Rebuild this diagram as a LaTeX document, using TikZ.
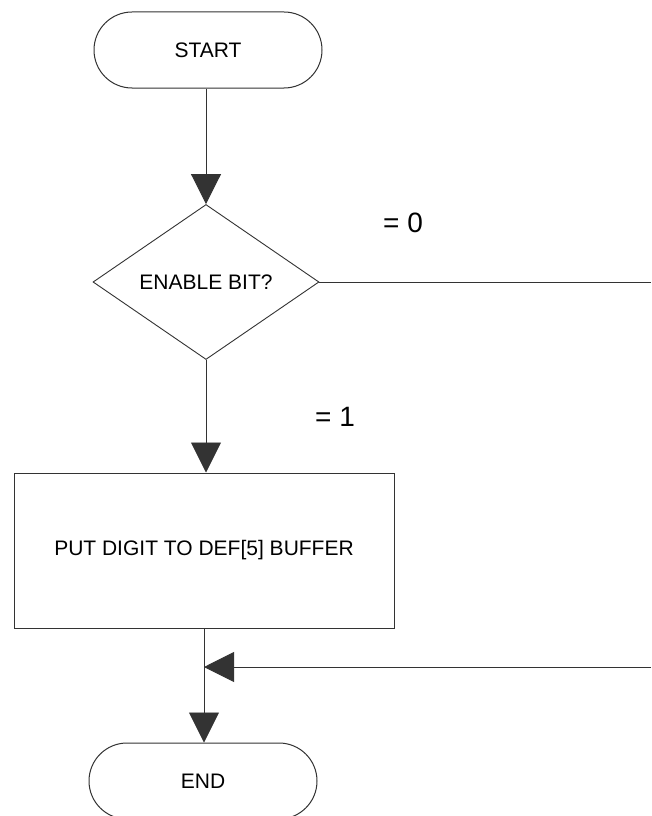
\documentclass[tikz,border=0pt]{standalone}
\usepackage{fontspec}
\setmainfont{Liberation Sans}
\usetikzlibrary{arrows.meta,shapes.geometric,shapes.misc}
\begin{document}
\begin{tikzpicture}[x=1pt,y={(0pt,-1pt)},
  every node/.style={font=\fontsize{21}{25}\selectfont, text=black},
  term/.style={draw=black!80, line width=1pt, rounded rectangle, minimum width=228pt, minimum height=76pt, inner sep=0pt},
  decide/.style={draw=black!80, line width=0.9pt, diamond, aspect=1.46, minimum width=226pt, minimum height=155pt, inner sep=0pt},
  procbox/.style={draw=black!80, line width=1pt, rectangle, minimum width=380pt, minimum height=155pt, inner sep=0pt},
  cond/.style={font=\fontsize{28}{32}\selectfont},
  flow/.style={draw=black!80, line width=0.9pt},
  flowarr/.style={flow, -{Triangle[length=30pt,width=30pt]}}
]
\useasboundingbox (0,0) rectangle (651,816);
\fill[white] (0,0) rectangle (651,816);

\node[term] (start) at (208,50) {START};
\node[decide] (dia) at (206,282) {ENABLE BIT?};
\node[procbox] (box) at (204,550.5) {PUT DIGIT TO DEF[5] BUFFER};
\node[term] (end) at (203,781) {END};

\node[cond] (c0) at (403,223) {= 0};
\node[cond] (c1) at (335,417) {= 1};

\coordinate (r0) at (651,282);
\coordinate (r1) at (651,667);
\coordinate (mj) at (204,667);

\draw[flowarr] (start.south -| dia.north) -- (dia.north);
\draw[flow] (dia.east) -- (r0);
\draw[flowarr] (dia.south) -- (dia.south |- box.north);
\draw[flowarr] (box.south) -- (box.south |- end.north);
\draw[flowarr] (r1) -- (mj);
\end{tikzpicture}
\end{document}
